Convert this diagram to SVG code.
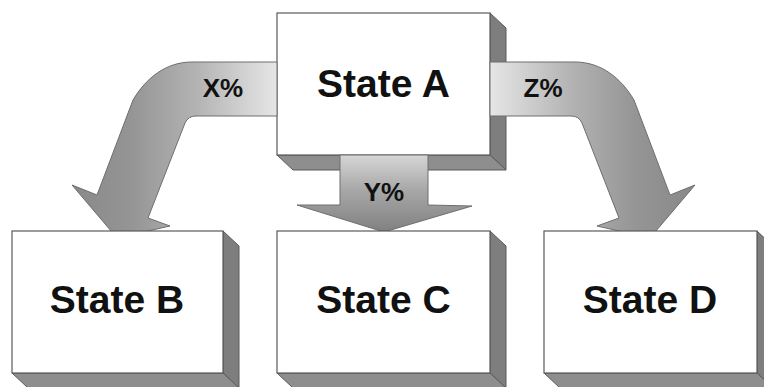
<svg xmlns="http://www.w3.org/2000/svg" width="764" height="387" viewBox="0 0 764 387">
  <defs>
    <style>
      .front { fill: #ffffff; stroke: #5a5a5a; stroke-width: 1.2; }
      .side { fill: #7e7e7e; stroke: #5a5a5a; stroke-width: 1; stroke-linejoin: round; }
      .base { fill: #8e8e8e; stroke: #5a5a5a; stroke-width: 1; stroke-linejoin: round; }
      .arrow { stroke: #6e6e6e; stroke-width: 1; stroke-linejoin: miter; }
      .title { font-family: "Liberation Sans", Arial, sans-serif; font-weight: bold; font-size: 39px; fill: #111111; text-anchor: middle; }
      .pct { font-family: "Liberation Sans", Arial, sans-serif; font-weight: bold; font-size: 26px; fill: #111111; text-anchor: middle; }
    </style>
    <!-- side arrow shading: light next to the source box, darker toward the head -->
    <linearGradient id="sideShade" gradientUnits="userSpaceOnUse" x1="277" y1="0" x2="70" y2="0">
      <stop offset="0" stop-color="#e6e6e6"/>
      <stop offset="0.4" stop-color="#b2b2b2"/>
      <stop offset="0.7" stop-color="#959595"/>
      <stop offset="1" stop-color="#888888"/>
    </linearGradient>
    <linearGradient id="downShade" gradientUnits="userSpaceOnUse" x1="0" y1="155" x2="0" y2="232">
      <stop offset="0" stop-color="#d6d6d6"/>
      <stop offset="0.45" stop-color="#a8a8a8"/>
      <stop offset="1" stop-color="#808080"/>
    </linearGradient>
    <!-- bent arrow leaving the left side of the top box -->
    <path id="bentArrow" class="arrow" fill="url(#sideShade)"
          d="M 277,62 H 192 C 166,62 146,78 133,100 L 97,195 L 72,185 L 117,238 L 170,226 L 148,218 L 185,123 Q 188,116 196,116 H 277 Z"/>
  </defs>

  <!-- top node -->
  <g id="stateA">
    <polygon class="side" points="490,13 506,28 506,170 490,155"/>
    <polygon class="base" points="277,155 490,155 506,170 293,170"/>
    <rect class="front" x="277" y="13" width="213" height="142"/>
    <text class="title" x="383.5" y="97">State A</text>
  </g>

  <!-- transition arrows -->
  <g id="connectors">
    <use href="#bentArrow"/>
    <use href="#bentArrow" transform="translate(767,0) scale(-1,1)"/>
    <path class="arrow" fill="url(#downShade)"
          d="M 340,155 H 428 V 205 L 472,206 L 384,232 L 297,205 L 340,205 Z"/>
    <text class="pct" x="223" y="97">X%</text>
    <text class="pct" x="384" y="201">Y%</text>
    <text class="pct" x="543" y="97">Z%</text>
  </g>

  <!-- bottom nodes -->
  <g id="stateB">
    <polygon class="side" points="223,231 239,246 239,388 223,373"/>
    <polygon class="base" points="12,373 223,373 239,388 28,388"/>
    <rect class="front" x="12" y="231" width="211" height="142"/>
    <text class="title" x="117" y="313">State B</text>
  </g>
  <g id="stateC">
    <polygon class="side" points="490,231 506,246 506,388 490,373"/>
    <polygon class="base" points="277,373 490,373 506,388 293,388"/>
    <rect class="front" x="277" y="231" width="213" height="142"/>
    <text class="title" x="383.5" y="313">State C</text>
  </g>
  <g id="stateD">
    <polygon class="side" points="757,231 773,246 773,388 757,373"/>
    <polygon class="base" points="544,373 757,373 773,388 560,388"/>
    <rect class="front" x="544" y="231" width="213" height="142"/>
    <text class="title" x="650" y="313">State D</text>
  </g>
</svg>
